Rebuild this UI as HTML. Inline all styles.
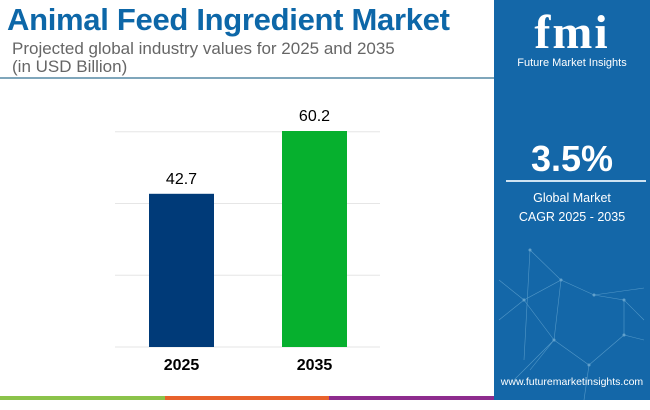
<!DOCTYPE html>
<html><head><meta charset="utf-8"><style>
body{margin:0;width:650px;height:400px;overflow:hidden;background:#fff;font-family:"Liberation Sans",sans-serif;position:relative}
</style></head><body>
<div style="position:absolute;left:7px;top:2px;font-size:31px;font-weight:bold;color:#0d67a8;letter-spacing:-0.3px">Animal Feed Ingredient Market</div>
<div style="position:absolute;left:12px;top:40px;font-size:17px;line-height:18px;color:#666">Projected global industry values for 2025 and 2035<br>(in USD Billion)</div>
<div style="position:absolute;left:0;top:77px;width:494px;height:2px;background:#7fa6bb"></div>
<svg id="chart" width="494" height="400" style="position:absolute;left:0;top:0"></svg>
<div style="position:absolute;left:0;top:396px;width:165px;height:4px;background:#8bc34a"></div>
<div style="position:absolute;left:165px;top:396px;width:164px;height:4px;background:#e8622c"></div>
<div style="position:absolute;left:329px;top:396px;width:165px;height:4px;background:#8e2c8e"></div>
<div style="position:absolute;left:494px;top:0;width:156px;height:400px;background:#1467a8;color:#fff">
<svg width="156" height="170" style="position:absolute;left:0;top:240px;opacity:.45">
<path fill="none" stroke="#9fd3ee" stroke-width=".6" d="M36 10L30 120M36 10L67 40L30 60L5 40M67 40L100 55L150 48M67 40L60 100L36 130M60 100L95 125L130 95L150 100M100 55L130 60L150 80M30 60L60 100M5 80L30 60M130 60L130 95M95 125L90 160M20 140L60 100"/>
<g fill="#bfe6f7"><circle cx="36" cy="10" r="1.5"/><circle cx="67" cy="40" r="1.5"/><circle cx="30" cy="60" r="1.5"/><circle cx="100" cy="55" r="1.5"/><circle cx="60" cy="100" r="1.5"/><circle cx="130" cy="60" r="1.5"/><circle cx="130" cy="95" r="1.5"/><circle cx="95" cy="125" r="1.5"/></g>
</svg>
<div style="position:absolute;left:0;top:8px;width:156px;text-align:center;font-size:48px;font-weight:bold;font-family:'Liberation Serif',serif;letter-spacing:2px;line-height:50px">fmi</div>
<div style="position:absolute;left:0;top:57px;width:156px;text-align:center;font-size:11px">Future Market Insights</div>
<div style="position:absolute;left:0;top:138px;width:156px;text-align:center;font-size:36px;font-weight:bold">3.5%</div>
<div style="position:absolute;left:12px;top:180px;width:140px;height:2px;background:#cfe3f2"></div>
<div style="position:absolute;left:0;top:189px;width:156px;text-align:center;font-size:12.5px;line-height:19px">Global Market<br>CAGR 2025 - 2035</div>
<div style="position:absolute;left:0;top:376px;width:156px;text-align:center;font-size:10.5px">www.futuremarketinsights.com</div>
</div>
<script>
const categories=["2025","2035"];
const values=[42.7,60.2];
const colors=["#003a78","#06b02e"];
const gridTicks=[0,20,40,60];
const svg=document.getElementById('chart');
const NS="http://www.w3.org/2000/svg";
const y0=347, k=3.588;
const y=v=>y0-v*k;
const x=i=>149+i*133;
gridTicks.forEach(t=>{const l=document.createElementNS(NS,'line');


l.setAttribute('x1',115);l.setAttribute('x2',380);l.setAttribute('y1',y(t));l.setAttribute('y2',y(t));l.setAttribute('stroke','#e6e6e6');svg.appendChild(l);});
categories.forEach((c,i)=>{
const r=document.createElementNS(NS,'rect');


r.setAttribute('x',x(i));r.setAttribute('width',65);r.setAttribute('y',y(values[i]));r.setAttribute('height',values[i]*k);r.setAttribute('fill',colors[i]);svg.appendChild(r);
const v=document.createElementNS(NS,'text');


v.setAttribute('x',x(i)+32.5);v.setAttribute('y',y(values[i])-10);v.setAttribute('text-anchor','middle');v.setAttribute('font-size','16');v.textContent=values[i];svg.appendChild(v);
const t=document.createElementNS(NS,'text');


t.setAttribute('x',x(i)+32.5);t.setAttribute('y',370);t.setAttribute('text-anchor','middle');t.setAttribute('font-size','16');t.setAttribute('font-weight','bold');t.textContent=c;svg.appendChild(t);
});
</script>
</body></html>
